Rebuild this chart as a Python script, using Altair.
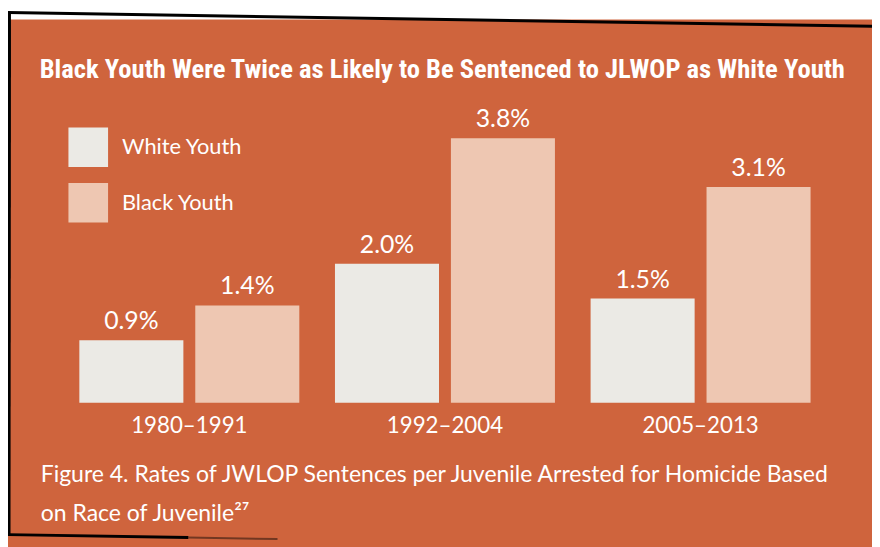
import altair as alt
import pandas as pd

# ---- data ----
periods = ["1980–1991", "1992–2004", "2005–2013"]
races = ["White Youth", "Black Youth"]
white_rates = [0.9, 2.0, 1.5]
black_rates = [1.4, 3.8, 3.1]
race_colors = ["#EBEAE5", "#EEC7B2"]

title_text = "Black Youth Were Twice as Likely to Be Sentenced to JLWOP as White Youth"
caption_1 = "Figure 4. Rates of JWLOP Sentences per Juvenile Arrested for Homicide Based"
caption_2 = "on Race of Juvenile²⁷"

ORANGE = "#CF643D"
BODY = "Lato, 'Open Sans', sans-serif"
HEAD = ("'Noto Sans ExtraCondensed', 'Noto Sans Condensed', "
        "'Liberation Sans Narrow', 'Roboto Condensed', Roboto, sans-serif")

rows = []
for p, w, b in zip(periods, white_rates, black_rates):
    rows.append({"period": p, "race": races[0], "value": w})
    rows.append({"period": p, "race": races[1], "value": b})
df = pd.DataFrame(rows)

base = alt.Chart(df).transform_calculate(
    label="format(datum.value, '.1f') + '%'"
).encode(
    x=alt.X(
        "period:N",
        sort=periods,
        scale=alt.Scale(paddingInner=0.1395, paddingOuter=0),
        axis=alt.Axis(
            title=None, ticks=False, domain=False, labelAngle=0,
            labelFontSize=22.5, labelColor="white", labelFont=BODY,
            labelPadding=12,
        ),
    ),
    xOffset=alt.XOffset(
        "race:N", sort=races,
        scale=alt.Scale(paddingInner=0.1026, paddingOuter=0),
    ),
    y=alt.Y("value:Q", scale=alt.Scale(domain=[0, 4]), axis=None),
)

bars = base.mark_bar().encode(
    color=alt.Color(
        "race:N",
        sort=races,
        scale=alt.Scale(domain=races, range=race_colors),
        legend=alt.Legend(
            orient="none", legendX=-11, legendY=3, title=None,
            symbolType="square", symbolSize=1600, symbolStrokeWidth=0,
            symbolOpacity=1, labelFontSize=22, labelColor="white",
            labelFont=BODY, labelOffset=14, rowPadding=16, padding=0,
        ),
    )
)

labels = base.mark_text(dy=-19, fontSize=25, color="white", font=BODY).encode(
    text="label:N"
)

one = pd.DataFrame({"a": [0]})

title = alt.Chart(pd.DataFrame({"t": [title_text]})).mark_text(
    align="left", baseline="middle", fontSize=26.8, fontWeight="bold",
    font=HEAD, color="white",
).encode(x=alt.value(-40), y=alt.value(-55), text="t:N")

cap1 = alt.Chart(pd.DataFrame({"t": [caption_1]})).mark_text(
    align="left", baseline="alphabetic", fontSize=23.2, font=BODY, color="white",
).encode(x=alt.value(-39), y=alt.value(361), text="t:N")

cap2 = alt.Chart(pd.DataFrame({"t": [caption_2]})).mark_text(
    align="left", baseline="alphabetic", fontSize=23.2, font=BODY, color="white",
).encode(x=alt.value(-39), y=alt.value(400), text="t:N")

# decorative frame
white_strip = alt.Chart(one).mark_rect(color="white").encode(
    x=alt.value(-80), x2=alt.value(810), y=alt.value(-125), y2=alt.value(-106)
)
top_line = alt.Chart(one).mark_rule(color="black", strokeWidth=3).encode(
    x=alt.value(-72), x2=alt.value(800), y=alt.value(-113), y2=alt.value(-99)
)
left_line = alt.Chart(one).mark_rule(color="black", strokeWidth=3).encode(
    x=alt.value(-70.5), x2=alt.value(-71), y=alt.value(-113), y2=alt.value(415)
)
bottom_line = alt.Chart(one).mark_rule(color="black", strokeWidth=3).encode(
    x=alt.value(-72), x2=alt.value(110), y=alt.value(414), y2=alt.value(417)
)
bottom_fade = alt.Chart(one).mark_rule(color="black", strokeWidth=2, opacity=0.45).encode(
    x=alt.value(110), x2=alt.value(200), y=alt.value(417), y2=alt.value(418.5)
)

chart = alt.layer(
    white_strip, top_line, left_line, bottom_line, bottom_fade,
    bars, labels, title, cap1, cap2,
).properties(
    width=738,
    height=281,
    background=ORANGE,
    padding={"left": 72, "top": 115, "right": 62, "bottom": 143},
    autosize=alt.AutoSizeParams(type="none"),
).configure_view(stroke=None)

chart.save("out.html", embed_options={"renderer": "svg", "actions": False})
